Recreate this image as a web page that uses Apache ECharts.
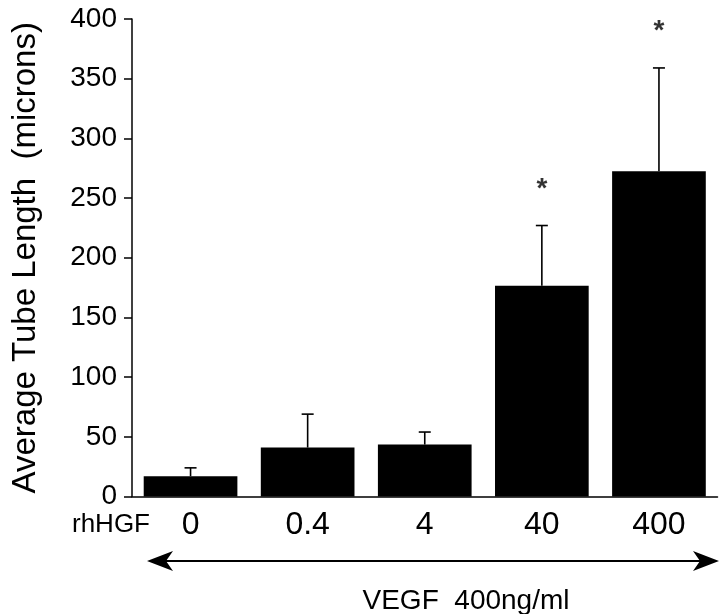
<!DOCTYPE html>
<html>
<head>
<meta charset="utf-8">
<script src="https://cdn.jsdelivr.net/npm/echarts@6/dist/echarts.min.js"></script>
<style>
html,body{margin:0;padding:0;background:#fff;}
#chart{width:720px;height:614px;}
</style>
</head>
<body>
<div id="chart"></div>
<script>
// Data
var categories = ['0', '0.4', '4', '40', '400'];
var meanLength = [17, 41, 43.5, 176.5, 272.5];
var errorUpper = [24, 69, 54, 227, 359];
var asteriskAt = [null, null, null, 260, 392];
var yTicks = [0, 50, 100, 150, 200, 250, 300, 350, 400];

var FONT = 'Liberation Sans, Arial, Helvetica, sans-serif';
var chart = echarts.init(document.getElementById('chart'), null, {renderer: 'canvas'});

var errData = categories.map(function (c, i) { return [i, meanLength[i], errorUpper[i]]; });
var starData = categories.map(function (c, i) { return asteriskAt[i] == null ? null : [i, asteriskAt[i]]; })
  .filter(function (d) { return d; });

var option = {
  backgroundColor: '#ffffff',
  animation: false,
  grid: {left: 132, right: 2.5, top: 19, bottom: 117.5, containLabel: false},
  xAxis: {
    type: 'category',
    data: categories,
    axisLine: {show: true, lineStyle: {color: '#000', width: 1.5}},
    axisTick: {show: false},
    axisLabel: {color: '#000', fontFamily: FONT, fontSize: 32, margin: 13}
  },
  yAxis: {
    type: 'value',
    min: yTicks[0],
    max: yTicks[yTicks.length - 1],
    interval: 50,
    name: 'Average Tube Length  (microns)',
    nameLocation: 'middle',
    nameGap: 90,
    nameTextStyle: {color: '#000', fontFamily: FONT, fontSize: 33},
    splitLine: {show: false},
    axisLine: {show: true, lineStyle: {color: '#000', width: 1.5}},
    axisTick: {show: true, length: 8, lineStyle: {color: '#000', width: 1.5}},
    axisLabel: {color: '#000', fontFamily: FONT, fontSize: 28, margin: 15}
  },
  series: [
    {
      type: 'bar',
      data: meanLength,
      barCategoryGap: '20%',
      itemStyle: {color: '#000'}
    },
    {
      type: 'custom',
      data: errData,
      z: 3,
      renderItem: function (params, api) {
        var x = api.value(0);
        var pMean = api.coord([x, api.value(1)]);
        var pTop = api.coord([x, api.value(2)]);
        var half = 6;
        var style = {stroke: '#000', lineWidth: 1.6};
        return {
          type: 'group',
          children: [
            {type: 'line', shape: {x1: pMean[0], y1: pMean[1], x2: pTop[0], y2: pTop[1]}, style: style},
            {type: 'line', shape: {x1: pTop[0] - half, y1: pTop[1], x2: pTop[0] + half, y2: pTop[1]}, style: style}
          ]
        };
      }
    },
    {
      type: 'scatter',
      data: starData,
      symbolSize: 0,
      label: {
        show: true,
        position: 'inside',
        formatter: '*',
        color: '#000',
        fontFamily: FONT,
        fontSize: 28,
        fontWeight: 'bold',
        offset: [0, 3]
      }
    }
  ],
  graphic: [
    {type: 'text', left: 72, top: 512, style: {text: 'rhHGF', fill: '#000', font: '26px ' + FONT}},
    {type: 'line', shape: {x1: 160, y1: 561, x2: 706, y2: 561}, style: {stroke: '#000', lineWidth: 2}},
    {type: 'polygon', shape: {points: [[147, 561], [173, 551], [166, 561], [173, 571]]}, style: {fill: '#000'}},
    {type: 'polygon', shape: {points: [[719, 561], [693, 551], [700, 561], [693, 571]]}, style: {fill: '#000'}},
    {type: 'text', x: 466, y: 601, style: {text: 'VEGF  400ng/ml', fill: '#000', font: '28px ' + FONT, align: 'center', verticalAlign: 'middle'}}
  ]
};
chart.setOption(option);
</script>
</body>
</html>
